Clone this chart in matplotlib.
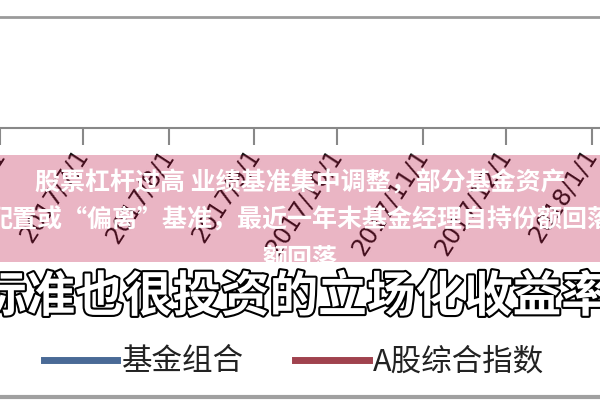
import datetime as dt
import matplotlib
matplotlib.use("Agg")
import matplotlib.pyplot as plt
import matplotlib.patheffects as pe
from matplotlib.patches import Rectangle
from matplotlib.lines import Line2D

# monthly dates of the chart (the lines sit above the cropped area)
months = [dt.date(2017, 6, 1), dt.date(2017, 7, 1), dt.date(2017, 8, 1),
          dt.date(2017, 9, 1), dt.date(2017, 10, 1), dt.date(2017, 11, 1),
          dt.date(2017, 12, 1), dt.date(2018, 1, 1), dt.date(2018, 2, 1)]
tick_labels = ["2017/6/1", "2017/7/1", "2017/8/1", "2017/9/1", "2017/10/1",
               "2017/11/1", "2017/12/1", "2018/1/1", "2018/2/1"]
fund = [1.00, 1.04, 1.08, 1.12, 1.16, 1.19, 1.21, 1.24, 1.20]
index_a = [1.00, 1.02, 1.04, 1.06, 1.07, 1.06, 1.05, 1.07, 1.04]
series_names = ["基金组合", "A股综合指数"]

title_lines = ["股票杠杆过高 业绩基准集中调整，部分基金资产",
               "配置或“偏离”基准，最近一年末基金经理自持份额回落",
               "额回落"]
subtitle = "标准也很投资的立场化收益率"

cjk = ["Noto Sans CJK SC", "DejaVu Sans"]

fig = plt.figure(figsize=(6, 4), dpi=100)
fig.patch.set_facecolor("white")

# axes runs past the figure edges, the picture is a crop of a bigger chart
ax = fig.add_axes([0, 0.68, 1.3, 1.11])
l1, = ax.plot(months, fund, color="#4a6a96", lw=4)
l2, = ax.plot(months, index_a, color="#a0424e", lw=4)

ax.set_xlim(dt.date(2017, 6, 11), dt.date(2018, 3, 10))
ax.set_ylim(0.6, 1.4)
ax.set_yticks([0.6, 0.8, 1.0, 1.2, 1.4])
ax.yaxis.grid(True, color="#9a9a9a", lw=2)
ax.tick_params(axis="y", left=False, labelleft=False)
ax.set_xticks(months)
ax.set_xticklabels(tick_labels, rotation=57, ha="right", va="center",
                   rotation_mode="anchor", fontsize=17, color="#151515",
                   family="DejaVu Sans")
ax.tick_params(axis="x", length=12, width=1.5, color="#888888", pad=5)
for s in ["top", "left", "right"]:
    ax.spines[s].set_visible(False)
ax.spines["bottom"].set_color("#888888")
ax.spines["bottom"].set_linewidth(1.5)

# pink caption band laid over the tick labels
fig.patches.append(Rectangle((0, 1 - 262 / 400), 1, (262 - 155) / 400,
                             transform=fig.transFigure, facecolor="#ba0034",
                             alpha=0.29, edgecolor="none", zorder=5))
for txt, ypx in zip(title_lines, [183, 220, 259]):
    fig.text(0.5, 1 - ypx / 400, txt, ha="center", va="center", color="white",
             fontsize=18, fontweight="bold", family=cjk, zorder=8)

fig.text(0.49, 1 - 297 / 400, subtitle, ha="center", va="center",
         color="white", fontsize=35, fontweight="bold", family=cjk, zorder=7,
         path_effects=[pe.withStroke(linewidth=3, foreground="black")])

leg = fig.legend([l1, l2], series_names, loc="center",
                 bbox_to_anchor=(0.49, 1 - 362 / 400), ncol=2, frameon=False,
                 prop={"family": cjk, "size": 22}, handlelength=2.4,
                 handletextpad=0.15, columnspacing=1.7, labelcolor="#222222")
for h in leg.get_lines():
    h.set_linewidth(5)

fig.lines.append(Line2D([0, 1], [1 - 397 / 400] * 2, transform=fig.transFigure,
                        color="#a0a0a0", lw=3))

fig.savefig("out.png", dpi=100)
